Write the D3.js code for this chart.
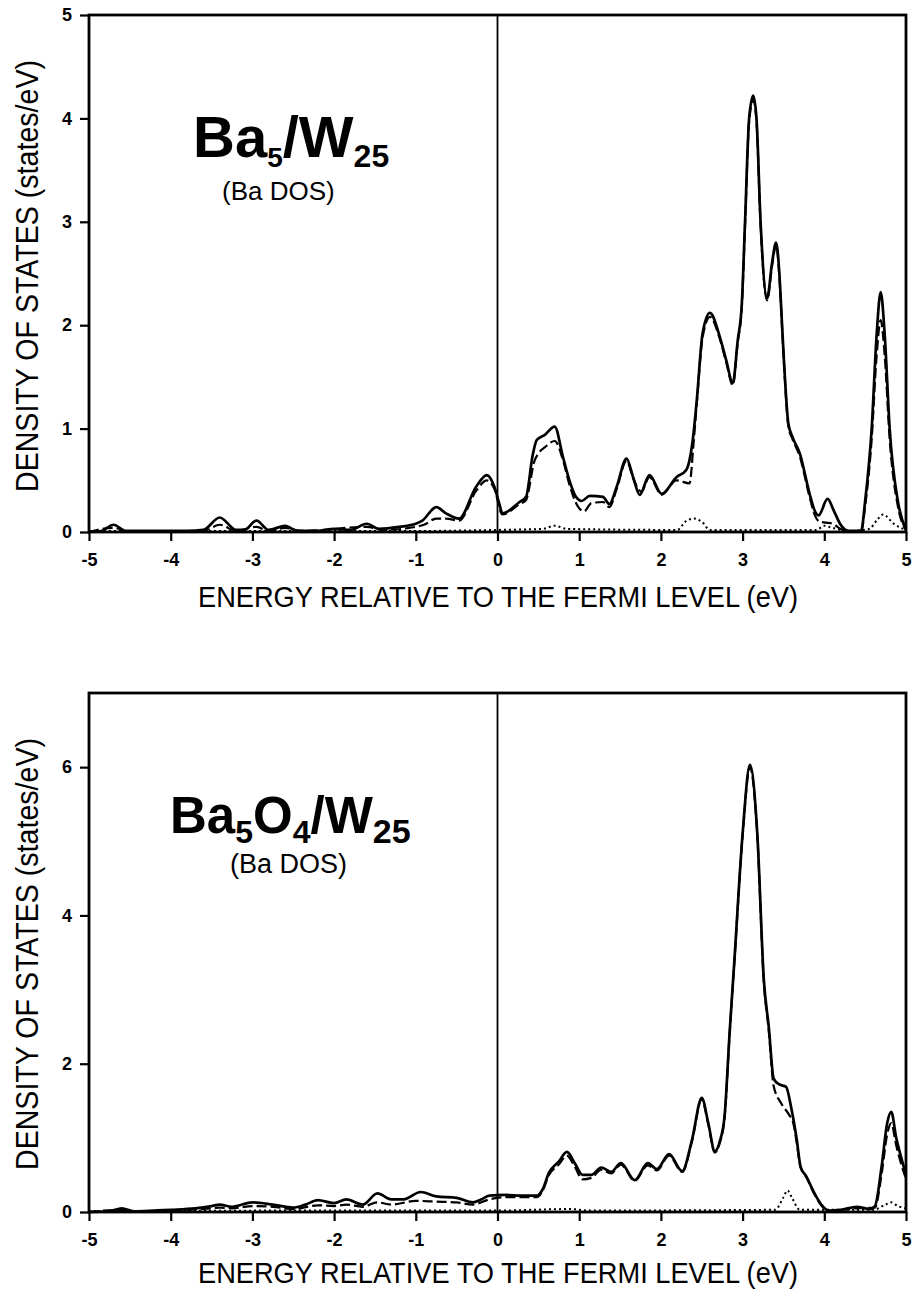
<!DOCTYPE html>
<html>
  <head>
    <meta charset="utf-8">
    <title>Ba DOS</title>
    <script src="https://d3js.org/d3.v7.min.js"></script>
    <style>
      body { margin: 0; background: #fff; }
      svg { display: block; font-family: "Liberation Sans", Arial, sans-serif; }
      .tick text { font-weight: bold; font-size: 18px; fill: #000; }
      .tick line { stroke: #000; stroke-width: 2.2; }
    </style>
  </head>
  <body>
    <script type="text/javascript">
    // energy ticks shared by both panels
    var energyTicks = [-5, -4, -3, -2, -1, 0, 1, 2, 3, 4, 5];
    var topDosTicks = [0, 1, 2, 3, 4, 5];
    var bottomDosTicks = [0, 2, 4, 6];

    // Ba5/W25 : total Ba DOS (solid)
    var topTotal = [[-5,0],[-4.85,0.01],[-4.7,0.07],[-4.55,0.01],[-4.2,0.01],[-3.8,0.01],[-3.6,0.02],[-3.4,0.14],[-3.2,0.02],
      [-3.1,0.02],[-2.95,0.11],[-2.8,0.02],[-2.6,0.06],[-2.45,0.01],[-2.2,0.01],[-2.0,0.03],[-1.8,0.02],[-1.6,0.08],[-1.45,0.03],
      [-1.2,0.05],[-1.0,0.08],[-0.92,0.11],[-0.75,0.24],[-0.63,0.18],[-0.47,0.13],[-0.26,0.44],[-0.13,0.55],[-0.04,0.44],[0.02,0.28],
      [0.06,0.18],[0.27,0.29],[0.35,0.34],[0.43,0.74],[0.48,0.89],[0.58,0.94],[0.7,1.02],[0.8,0.73],[0.88,0.5],[0.96,0.34],[1.03,0.3],
      [1.13,0.35],[1.29,0.34],[1.37,0.27],[1.46,0.44],[1.58,0.71],[1.66,0.53],[1.74,0.36],[1.86,0.55],[2.01,0.37],[2.19,0.53],[2.31,0.6],
      [2.39,0.89],[2.44,1.28],[2.51,1.92],[2.6,2.12],[2.72,1.89],[2.8,1.66],[2.88,1.44],[2.94,1.85],[2.99,2.2],[3.03,3.0],[3.08,4.0],
      [3.13,4.22],[3.17,4.0],[3.22,3.0],[3.3,2.26],[3.36,2.6],[3.41,2.8],[3.45,2.5],[3.48,2.05],[3.51,1.6],[3.56,1.05],[3.61,0.92],
      [3.7,0.76],[3.82,0.37],[3.88,0.21],[3.93,0.16],[4.04,0.32],[4.12,0.2],[4.2,0.07],[4.3,0.01],[4.45,0.01],[4.5,0.3],[4.58,1.0],
      [4.64,1.9],[4.69,2.32],[4.74,1.9],[4.8,1.0],[4.9,0.3],[5,0.02]];
    // Ba5/W25 : partial (dashed)
    var topDashed = [[-5,0],[-4.7,0.04],[-4.5,0],[-3.6,0.01],[-3.4,0.07],[-3.2,0.01],[-2.95,0.05],[-2.8,0.01],[-2.6,0.04],[-2.4,0.01],
      [-1.6,0.05],[-1.4,0.02],[-1.0,0.05],[-0.9,0.07],[-0.75,0.13],[-0.63,0.13],[-0.47,0.11],[-0.26,0.4],[-0.13,0.5],[-0.04,0.42],
      [0.06,0.17],[0.27,0.27],[0.35,0.31],[0.45,0.68],[0.51,0.77],[0.58,0.82],[0.7,0.88],[0.8,0.7],[0.88,0.46],[0.96,0.28],[1.06,0.2],
      [1.15,0.28],[1.29,0.29],[1.37,0.24],[1.46,0.42],[1.58,0.69],[1.66,0.52],[1.76,0.39],[1.86,0.53],[2.01,0.36],[2.19,0.5],[2.35,0.47],
      [2.4,0.86],[2.44,1.25],[2.51,1.88],[2.6,2.08],[2.72,1.87],[2.8,1.64],[2.88,1.42],[2.94,1.83],[2.99,2.17],[3.03,2.97],[3.08,3.97],
      [3.13,4.18],[3.17,3.97],[3.22,2.97],[3.3,2.24],[3.36,2.57],[3.41,2.77],[3.45,2.47],[3.48,2.02],[3.51,1.58],[3.56,1.02],[3.61,0.9],
      [3.7,0.73],[3.82,0.34],[3.88,0.17],[3.94,0.1],[4.02,0.09],[4.1,0.08],[4.2,0.03],[4.3,0],[4.45,0],[4.5,0.25],[4.58,0.9],
      [4.64,1.7],[4.69,2.05],[4.74,1.7],[4.8,0.9],[4.9,0.25],[5,0.02]];
    // Ba5/W25 : partial (dotted)
    var topDotted = [[-5,0.01],[-1,0.01],[0,0.02],[0.55,0.03],[0.7,0.06],[0.85,0.03],[2.2,0.02],[2.3,0.1],[2.4,0.13],[2.5,0.1],
      [2.6,0.02],[3.9,0.02],[4.0,0.06],[4.1,0.04],[4.3,0.01],[4.55,0.03],[4.65,0.12],[4.72,0.17],[4.85,0.08],[5,0.02]];

    // Ba5O4/W25 : total Ba DOS (solid)
    var bottomTotal = [[-5,0],[-4.75,0.01],[-4.6,0.05],[-4.45,0.01],[-4.2,0.02],[-4.0,0.03],[-3.7,0.05],[-3.5,0.08],[-3.4,0.1],
      [-3.25,0.07],[-3.0,0.13],[-2.75,0.1],[-2.5,0.06],[-2.35,0.1],[-2.2,0.16],[-2.0,0.12],[-1.85,0.17],[-1.65,0.1],[-1.47,0.25],
      [-1.3,0.17],[-1.15,0.17],[-0.94,0.27],[-0.75,0.21],[-0.5,0.19],[-0.3,0.13],[-0.2,0.17],[-0.1,0.22],[0.1,0.23],[0.3,0.22],
      [0.48,0.22],[0.55,0.3],[0.63,0.53],[0.75,0.68],[0.85,0.81],[0.95,0.65],[1.04,0.5],[1.15,0.5],[1.27,0.6],[1.39,0.54],[1.51,0.66],
      [1.68,0.43],[1.84,0.66],[1.95,0.58],[2.1,0.78],[2.26,0.55],[2.38,0.97],[2.5,1.54],[2.58,1.2],[2.66,0.82],[2.72,0.95],[2.78,1.3],
      [2.84,2.4],[2.9,3.4],[3.0,5.1],[3.09,6.03],[3.18,5.1],[3.26,3.13],[3.32,2.5],[3.38,1.8],[3.45,1.72],[3.53,1.69],[3.6,1.38],
      [3.66,1.0],[3.71,0.61],[3.78,0.48],[3.88,0.25],[3.97,0.09],[4.05,0.02],[4.2,0.03],[4.4,0.07],[4.55,0.04],[4.62,0.08],[4.7,0.6],
      [4.77,1.2],[4.82,1.35],[4.88,1.0],[4.94,0.74],[5,0.5]];
    // Ba5O4/W25 : partial (dashed)
    var bottomDashed = [[-5,0],[-4.6,0.03],[-4.45,0.01],[-4.0,0.02],[-3.5,0.05],[-3.4,0.06],[-3.25,0.05],[-3.0,0.08],[-2.75,0.07],
      [-2.5,0.04],[-2.2,0.09],[-2.0,0.08],[-1.85,0.1],[-1.65,0.07],[-1.47,0.13],[-1.3,0.1],[-1.0,0.15],[-0.75,0.14],[-0.5,0.13],
      [-0.3,0.1],[-0.1,0.17],[0.1,0.2],[0.3,0.2],[0.48,0.2],[0.55,0.28],[0.63,0.5],[0.75,0.64],[0.85,0.76],[0.95,0.6],[1.04,0.44],
      [1.15,0.46],[1.27,0.57],[1.39,0.52],[1.51,0.64],[1.68,0.42],[1.84,0.63],[1.95,0.56],[2.1,0.76],[2.26,0.54],[2.38,0.95],
      [2.5,1.52],[2.58,1.18],[2.66,0.8],[2.72,0.93],[2.78,1.28],[2.84,2.38],[2.9,3.38],[3.0,5.07],[3.09,6.0],[3.18,5.07],[3.26,3.1],
      [3.32,2.45],[3.38,1.7],[3.47,1.47],[3.57,1.31],[3.62,1.2],[3.66,0.95],[3.71,0.6],[3.78,0.47],[3.88,0.24],[3.97,0.08],[4.05,0.01],
      [4.4,0.05],[4.62,0.06],[4.7,0.5],[4.77,1.05],[4.82,1.2],[4.88,0.9],[4.94,0.65],[5,0.45]];
    // Ba5O4/W25 : partial (dotted)
    var bottomDotted = [[-5,0.01],[-2,0.02],[0,0.02],[0.9,0.04],[1.1,0.02],[3.4,0.03],[3.5,0.2],[3.55,0.29],[3.6,0.2],[3.7,0.03],
      [4.6,0.03],[4.75,0.1],[4.82,0.13],[4.9,0.08],[5,0.05]];

    var xTitle = 'ENERGY RELATIVE TO THE FERMI LEVEL (eV)';
    var yTitle = 'DENSITY OF STATES (states/eV)';

    var panels = [
      { top: 15, bottom: 532, ymax: 5, yTicks: topDosTicks, total: topTotal, dashed: topDashed, dotted: topDotted,
        name: [['Ba', 58, 0], ['5', 28, 10], ['/W', 58, 0], ['25', 32, 10]], nameX: 193, nameY: 157,
        sub: '(Ba DOS)', subX: 222, subY: 200, subSize: 26, xTitleY: 607, yTitleMid: 276 },
      { top: 693, bottom: 1212, ymax: 7, yTicks: bottomDosTicks, total: bottomTotal, dashed: bottomDashed, dotted: bottomDotted,
        name: [['Ba', 51, 0], ['5', 32, 10], ['O', 51, 0], ['4', 32, 10], ['/W', 51, 0], ['25', 34, 10]], nameX: 170, nameY: 833,
        sub: '(Ba DOS)', subX: 230, subY: 873, subSize: 27, xTitleY: 1283, yTitleMid: 954 }
    ];

    var left = 89, right = 906;
    // plain hyphen for negatives, as printed
    var tickText = function(d) { return String(d); };

    var svg = d3.select('body').append('svg')
        .attr('width', 912)
        .attr('height', 1290);

    panels.forEach(function(p) {
      var x = d3.scaleLinear().domain([-5, 5]).range([left, right]);
      var y = d3.scaleLinear().domain([0, p.ymax]).range([p.bottom, p.top]);
      var g = svg.append('g');

      var line = d3.line()
          .x(function(d) { return x(d[0]); })
          .y(function(d) { return y(d[1]); })
          .curve(d3.curveMonotoneX);

      // Fermi level
      g.append('line')
          .attr('x1', x(0)).attr('x2', x(0))
          .attr('y1', p.top).attr('y2', p.bottom)
          .attr('stroke', '#000').attr('stroke-width', 1.8);

      g.append('path').datum(p.dotted)
          .attr('d', line).attr('fill', 'none').attr('stroke', '#000')
          .attr('stroke-width', 2).attr('stroke-dasharray', '2,3');
      g.append('path').datum(p.dashed)
          .attr('d', line).attr('fill', 'none').attr('stroke', '#000')
          .attr('stroke-width', 2.2).attr('stroke-dasharray', '10,4');
      g.append('path').datum(p.total)
          .attr('d', line).attr('fill', 'none').attr('stroke', '#000')
          .attr('stroke-width', 2.7).attr('stroke-linejoin', 'round');

      // frame
      g.append('rect')
          .attr('x', left).attr('y', p.top)
          .attr('width', right - left).attr('height', p.bottom - p.top)
          .attr('fill', 'none').attr('stroke', '#000').attr('stroke-width', 2.8);

      // x axis
      var xa = g.append('g')
          .attr('transform', 'translate(0,' + p.bottom + ')')
          .call(d3.axisBottom(x).tickValues(energyTicks).tickSize(9).tickSizeOuter(0).tickPadding(12)
            .tickFormat(tickText));
      xa.select('.domain').remove();

      // y axis
      var ya = g.append('g')
          .attr('transform', 'translate(' + left + ',0)')
          .call(d3.axisLeft(y).tickValues(p.yTicks).tickSize(9).tickSizeOuter(0).tickPadding(8)
            .tickFormat(tickText));
      ya.select('.domain').remove();

      // axis titles
      g.append('text')
          .attr('x', 198).attr('y', p.xTitleY)
          .attr('textLength', 600).attr('lengthAdjust', 'spacingAndGlyphs')
          .style('font-size', '29px')
          .text(xTitle);

      g.append('text')
          .attr('transform', 'translate(38,' + p.yTitleMid + ') rotate(-90)')
          .attr('x', -216).attr('y', 0)
          .attr('textLength', 432).attr('lengthAdjust', 'spacingAndGlyphs')
          .style('font-size', '31px')
          .text(yTitle);

      // compound label
      var t = g.append('text')
          .attr('x', p.nameX).attr('y', p.nameY)
          .style('font-weight', 'bold');
      var prev = 0;
      p.name.forEach(function(part) {
        t.append('tspan')
            .attr('dy', part[2] - prev)
            .style('font-size', part[1] + 'px')
            .text(part[0]);
        prev = part[2];
      });

      g.append('text')
          .attr('x', p.subX).attr('y', p.subY)
          .style('font-size', p.subSize + 'px')
          .text(p.sub);
    });
    </script>
  </body>
</html>
